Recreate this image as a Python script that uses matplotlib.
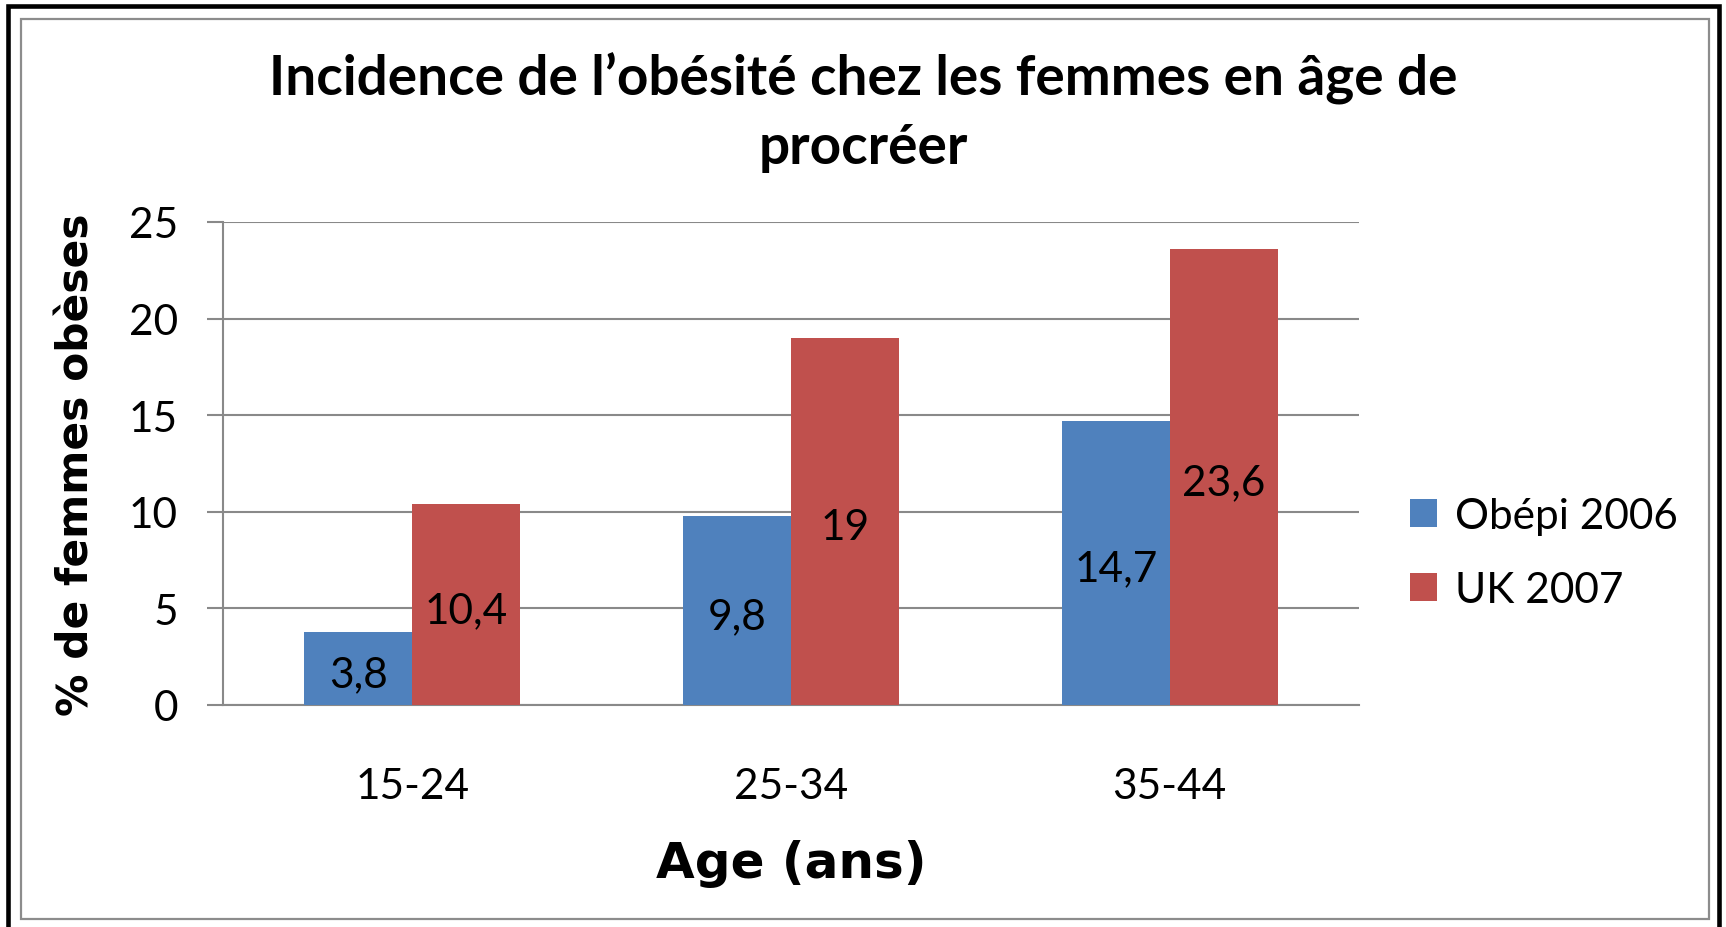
import matplotlib
matplotlib.use("Agg")
import matplotlib.pyplot as plt
from matplotlib.patches import Rectangle
import numpy as np

categories = ["15-24", "25-34", "35-44"]
obepi_2006 = [3.8, 9.8, 14.7]
uk_2007 = [10.4, 19, 23.6]
series_names = ["Obépi 2006", "UK 2007"]
yticks = [0, 5, 10, 15, 20, 25]

title = "Incidence de l\u2019obésité chez les femmes en âge de\nprocréer"
ylabel = "% de femmes obèses"
xlabel = "Age (ans)"

BLUE = "#4F81BD"
RED = "#C0504D"
GRID = "#898989"
CAL = "Lato"
FS = 30.5
W, H = 1726, 928

fig = plt.figure(figsize=(W / 100, H / 100), dpi=100)
fig.patch.set_facecolor("white")

# borders
fig.add_artist(Rectangle((7.5 / W, -0.05), (1719 - 7.5) / W, 1.05 - 6.5 / H,
                         transform=fig.transFigure, fill=False, ec="black", lw=3.3))
fig.add_artist(Rectangle((21 / W, 1 - 920 / H), (1709 - 21) / W, (920 - 19.5) / H,
                         transform=fig.transFigure, fill=False, ec="#8c8c8c", lw=1.6))

ax = fig.add_axes([223 / W, 1 - 706 / H, (1359 - 223) / W, (706 - 223) / H])
x = np.arange(len(categories))
bw = 0.285
b1 = ax.bar(x - bw / 2, obepi_2006, bw, color=BLUE, label=series_names[0], zorder=3)
b2 = ax.bar(x + bw / 2, uk_2007, bw, color=RED, label=series_names[1], zorder=3)

def fmt(vals):
    return [("%g" % v).replace(".", ",") for v in vals]

anns = []
anns += ax.bar_label(b1, labels=fmt(obepi_2006), label_type="center", fontsize=FS,
                     family=CAL, color="black", zorder=4)
anns += ax.bar_label(b2, labels=fmt(uk_2007), label_type="center", fontsize=FS,
                     family=CAL, color="black", zorder=4)
for a in anns:
    a.xyann = (0, -4)

ax.set_xlim(-0.5, 2.5)
ax.set_ylim(0, 25)
ax.set_yticks(yticks)
ax.set_yticklabels([str(t) for t in yticks], family=CAL, fontsize=FS)
ax.set_xticks(x)
ax.set_xticklabels(categories, family=CAL, fontsize=FS)
ax.yaxis.grid(True, color=GRID, lw=1.5, zorder=0)
ax.set_axisbelow(True)
for s in ["top", "right"]:
    ax.spines[s].set_visible(False)
for s in ["left", "bottom"]:
    ax.spines[s].set_color(GRID)
    ax.spines[s].set_linewidth(1.5)
ax.tick_params(axis="y", length=11.5, width=1.5, color=GRID, pad=21)
ax.tick_params(axis="x", length=0, pad=45)

ax.set_xlabel(xlabel, family="DejaVu Sans", fontweight="bold", fontsize=36)
ax.xaxis.set_label_coords(0.5, -(864 - 706) / (706 - 223))
ax.xaxis.label.set_va("center")
ax.set_ylabel(ylabel, family="DejaVu Sans", fontweight="bold", fontsize=30.5)
ax.yaxis.set_label_coords(-(223 - 77) / (1359 - 223), 0.5)
ax.yaxis.label.set_va("center")

fig.text(0.5, 1 - 113 / H, title, ha="center", va="center", family=CAL,
         fontweight="bold", fontsize=39.5, linespacing=1.44)

leg = fig.legend(loc="center left", bbox_to_anchor=(1410 / W, 1 - 554 / H),
                 frameon=False, borderpad=0, borderaxespad=0,
                 prop={"family": CAL, "size": FS}, handlelength=0.64,
                 handleheight=0.64, handletextpad=0.42, labelspacing=0.85)

fig.savefig("out.png", dpi=100)
